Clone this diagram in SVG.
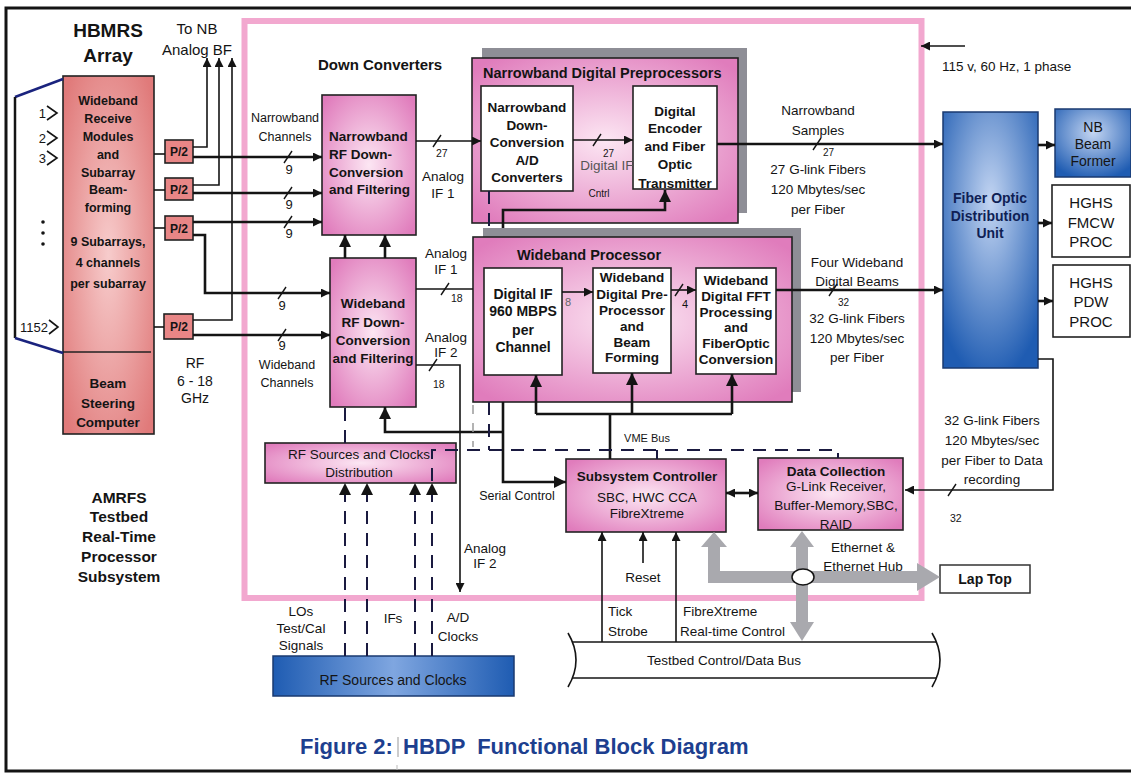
<svg xmlns="http://www.w3.org/2000/svg" width="1131" height="774" viewBox="0 0 1131 774">
<defs>
<style>
.t{font-family:"Liberation Sans",Arial,Helvetica,sans-serif;fill:#141414}
.b{font-weight:bold}
.m{text-anchor:middle}
.ln{stroke:#141414;fill:none;stroke-width:1.6}
.tk{stroke:#141414;fill:none;stroke-width:2.6}
.ds{stroke:#1a1a40;fill:none;stroke-width:2;stroke-dasharray:13 9}
.box{stroke:#222;stroke-width:1.6}
.wbox{fill:#fff;stroke:#222;stroke-width:1.6}
.sl{stroke:#141414;stroke-width:1.4}
.gray{fill:#a9a9ae}
</style>
<radialGradient id="gP" cx="50%" cy="50%" r="65%"><stop offset="0" stop-color="#fce6f3"/><stop offset="1" stop-color="#e07cbc"/></radialGradient>
<radialGradient id="gS" cx="50%" cy="50%" r="65%"><stop offset="0" stop-color="#f7cccc"/><stop offset="1" stop-color="#e07a7a"/></radialGradient>
<radialGradient id="gB" cx="50%" cy="35%" r="70%"><stop offset="0" stop-color="#c3d5f2"/><stop offset="1" stop-color="#1f5cb2"/></radialGradient>
<linearGradient id="gB2" x1="0" y1="0" x2="1" y2="0"><stop offset="0" stop-color="#1f5cb2"/><stop offset="0.5" stop-color="#7fa6e0"/><stop offset="1" stop-color="#1f5cb2"/></linearGradient>
<marker id="a" viewBox="0 0 10 10" refX="10" refY="5" markerWidth="10" markerHeight="9" markerUnits="userSpaceOnUse" orient="auto-start-reverse"><path d="M0,0 L10,5 L0,10 z" fill="#141414"/></marker>
<marker id="A" viewBox="0 0 10 10" refX="10" refY="5" markerWidth="12" markerHeight="15" markerUnits="userSpaceOnUse" orient="auto"><path d="M0,0 L10,5 L0,10 z" fill="#141414"/></marker>
</defs>
<rect x="0" y="0" width="1131" height="774" fill="#fff"/>
<rect x="6" y="8" width="1140" height="763" fill="none" stroke="#141414" stroke-width="3"/>
<rect x="244.5" y="21" width="677" height="577" fill="none" stroke="#f2a8cf" stroke-width="6"/>

<!-- titles -->
<text class="t b m" x="108" y="37" font-size="19">HBMRS</text>
<text class="t b m" x="108" y="62" font-size="19">Array</text>
<text class="t m" x="197" y="34" font-size="15">To NB</text>
<text class="t m" x="197" y="55" font-size="15">Analog BF</text>
<text class="t b" x="318" y="70" font-size="15">Down Converters</text>
<g class="t b m" font-size="15.5">
<text x="119" y="503">AMRFS</text><text x="119" y="522">Testbed</text><text x="119" y="542">Real-Time</text><text x="119" y="562">Processor</text><text x="119" y="582">Subsystem</text>
</g>

<!-- Wideband receive modules -->
<g id="wrm">
<rect class="box" x="63" y="76" width="91" height="358" fill="url(#gS)"/>
<line x1="63" y1="352" x2="151" y2="352" stroke="#222" stroke-width="1.4"/>
<g class="t b m" font-size="12.5">
<text x="108" y="105">Wideband</text><text x="108" y="123">Receive</text><text x="108" y="141">Modules</text><text x="108" y="159">and</text><text x="108" y="177">Subarray</text><text x="108" y="194">Beam-</text><text x="108" y="212">forming</text>
<text x="108" y="246">9 Subarrays,</text><text x="108" y="267">4 channels</text><text x="108" y="288">per subarray</text>
</g>
<g class="t b m" font-size="13.5">
<text x="108" y="388">Beam</text><text x="108" y="408">Steering</text><text x="108" y="427">Computer</text>
</g>
</g>
<g id="array">
<polyline points="63,79 15,97" fill="none" stroke="#1a237e" stroke-width="2.5"/>
<polyline points="15,97 15,338" fill="none" stroke="#141414" stroke-width="2.5"/>
<polyline points="15,338 63,353" fill="none" stroke="#1a237e" stroke-width="2.5"/>
<g class="ln" stroke-width="1.5">
<polyline points="47,106 57,113 47,120"/><polyline points="47,131 57,138 47,145"/><polyline points="47,151 57,158 47,165"/><polyline points="49,320 58,327 49,334"/>
</g>
<g class="t" font-size="13" text-anchor="end">
<text x="46" y="118">1</text><text x="46" y="143">2</text><text x="46" y="163">3</text><text x="48" y="332">1152</text>
</g>
<circle cx="43" cy="222" r="1.8" fill="#141414"/><circle cx="43" cy="233" r="1.8" fill="#141414"/><circle cx="43" cy="244" r="1.8" fill="#141414"/>
</g>

<!-- P/2 boxes -->
<g id="p2">
<rect class="box" x="165" y="140" width="28" height="23" fill="#e88686"/>
<rect class="box" x="165" y="178" width="28" height="22" fill="#e88686"/>
<rect class="box" x="165" y="216" width="28" height="24" fill="#e88686"/>
<rect class="box" x="164" y="314" width="29" height="25" fill="#e88686"/>
<g class="t b m" font-size="12"><text x="179" y="156">P/2</text><text x="179" y="194">P/2</text><text x="179" y="233">P/2</text><text x="179" y="331">P/2</text></g>
</g>

<!-- Narrowband RF down conversion -->
<g id="nbrf">
<rect class="box" x="322" y="95" width="94" height="140" fill="url(#gP)"/>
<g class="t b" font-size="13.5"><text x="329" y="141">Narrowband</text><text x="329" y="159">RF Down-</text><text x="329" y="177">Conversion</text><text x="329" y="194">and Filtering</text></g>
</g>
<g id="wbrf">
<rect class="box" x="330" y="258" width="86" height="149" fill="url(#gP)"/>
<g class="t b m" font-size="13.5"><text x="373" y="308">Wideband</text><text x="373" y="327">RF Down-</text><text x="373" y="345">Conversion</text><text x="373" y="363">and Filtering</text></g>
</g>

<!-- NB digital preprocessors -->
<g id="nbdp">
<rect x="482" y="48" width="265" height="165" fill="#8e8e96"/>
<rect class="box" x="472" y="58" width="266" height="165" fill="url(#gP)" stroke-width="2"/>
<text class="t b" x="483" y="78" font-size="14.5">Narrowband Digital Preprocessors</text>
<rect class="wbox" x="481" y="86" width="92" height="105"/>
<g class="t b m" font-size="13.5"><text x="527" y="112">Narrowband</text><text x="527" y="130">Down-</text><text x="527" y="147">Conversion</text><text x="527" y="165">A/D</text><text x="527" y="182">Converters</text></g>
<rect class="wbox" x="633" y="86" width="84" height="103"/>
<g class="t b m" font-size="13.5"><text x="675" y="116">Digital</text><text x="675" y="133">Encoder</text><text x="675" y="151">and Fiber</text><text x="675" y="169">Optic</text><text x="675" y="188">Transmitter</text></g>
<text class="t" x="603" y="157" font-size="10">27</text>
<text class="t m" x="607" y="170" font-size="13.5" fill="#555" style="fill:#555">Digital IF</text>
<text class="t m" x="599" y="197" font-size="10">Cntrl</text>
</g>

<!-- Wideband processor -->
<g id="wbp">
<rect x="483" y="228" width="318" height="164" fill="#8e8e96"/>
<rect class="box" x="473" y="237" width="319" height="165" fill="url(#gP)" stroke-width="2"/>
<text class="t b" x="517" y="260" font-size="14.5">Wideband Processor</text>
<rect class="wbox" x="484" y="268" width="78" height="107"/>
<g class="t b m" font-size="14"><text x="523" y="299">Digital IF</text><text x="523" y="316">960 MBPS</text><text x="523" y="335">per</text><text x="523" y="352">Channel</text></g>
<rect class="wbox" x="593" y="268" width="78" height="105"/>
<g class="t b m" font-size="13.5"><text x="632" y="282">Wideband</text><text x="632" y="299">Digital Pre-</text><text x="632" y="315">Processor</text><text x="632" y="331">and</text><text x="632" y="347">Beam</text><text x="632" y="362">Forming</text></g>
<rect class="wbox" x="696" y="268" width="80" height="106"/>
<g class="t b m" font-size="13.5"><text x="736" y="285">Wideband</text><text x="736" y="301">Digital FFT</text><text x="736" y="317">Processing</text><text x="736" y="332">and</text><text x="736" y="348">FiberOptic</text><text x="736" y="364">Conversion</text></g>
<text class="t" x="565" y="306" font-size="11" style="fill:#666">8</text>
<text class="t" x="682" y="308" font-size="11">4</text>
</g>

<!-- Fiber optic distribution and right boxes -->
<g id="fodu">
<rect x="943" y="112" width="95" height="256" fill="url(#gB)" stroke="#1a3a70" stroke-width="1.5"/>
<g class="t b m" font-size="14" style="fill:#0f1f55"><text x="990" y="203">Fiber Optic</text><text x="990" y="221">Distribution</text><text x="990" y="238">Unit</text></g>
</g>
<g id="nbbf">
<rect x="1055" y="109" width="76" height="68" fill="url(#gB)" stroke="#1a3a70" stroke-width="1.5"/>
<g class="t m" font-size="14"><text x="1093" y="132">NB</text><text x="1093" y="149">Beam</text><text x="1093" y="166">Former</text></g>
</g>
<g id="fmcw">
<rect class="wbox" x="1052" y="185" width="78" height="72"/>
<g class="t m" font-size="15"><text x="1091" y="208">HGHS</text><text x="1091" y="228">FMCW</text><text x="1091" y="247">PROC</text></g>
</g>
<g id="pdw">
<rect class="wbox" x="1053" y="265" width="77" height="72"/>
<g class="t m" font-size="15"><text x="1091" y="288">HGHS</text><text x="1091" y="307">PDW</text><text x="1091" y="327">PROC</text></g>
</g>

<!-- RF sources -->
<g id="rfdist">
<rect class="box" x="265" y="443" width="191" height="40" fill="url(#gP)"/>
<g class="t m" font-size="13.5"><text x="359" y="459">RF Sources and Clocks</text><text x="359" y="477">Distribution</text></g>
</g>
<g id="rfsrc">
<rect x="273" y="656" width="241" height="40" fill="url(#gB2)" stroke="#1a3a70" stroke-width="1.5"/>
<text class="t m" x="393" y="685" font-size="14">RF Sources and Clocks</text>
</g>

<!-- controller / data collection -->
<g id="ssc">
<rect class="box" x="566" y="459" width="160" height="73" fill="url(#gP)"/>
<text class="t b m" x="647" y="481" font-size="13.5">Subsystem Controller</text>
<text class="t m" x="647" y="502" font-size="13.5">SBC, HWC CCA</text>
<text class="t m" x="647" y="518" font-size="13.5">FibreXtreme</text>
</g>
<g id="dc">
<rect class="box" x="758" y="458" width="145" height="72" fill="url(#gP)"/>
<text class="t b m" x="836" y="476" font-size="13.5">Data Collection</text>
<text class="t m" x="836" y="491" font-size="13.5">G-Link Receiver,</text>
<text class="t m" x="836" y="510" font-size="13.5">Buffer-Memory,SBC,</text>
<text class="t m" x="836" y="529" font-size="13.5">RAID</text>
</g>
<g id="laptop">
<rect x="940" y="565" width="90" height="28" fill="#fff" stroke="#333" stroke-width="1.5"/>
<text class="t b m" x="985" y="584" font-size="14">Lap Top</text>
</g>
<g id="bus">
<path d="M568,633 Q584,660 568,687" class="ln"/>
<path d="M932,633 Q948,660 932,687" class="ln"/>
<line x1="572" y1="642" x2="936" y2="642" class="ln"/>
<line x1="572" y1="678" x2="936" y2="678" class="ln"/>
<text class="t m" x="724" y="665" font-size="13.5">Testbed Control/Data Bus</text>
</g>

<!-- connectors -->
<g id="connectors">
<!-- inputs into P/2 -->
<g class="ln"><line x1="154" y1="154" x2="165" y2="154"/><line x1="154" y1="190" x2="165" y2="190"/><line x1="154" y1="228" x2="165" y2="228"/><line x1="154" y1="327" x2="164" y2="327"/></g>
<!-- to NB analog BF -->
<g class="ln" marker-end="url(#a)"><polyline points="193,147 207,147 207,58"/><polyline points="193,185 219,185 219,58"/><polyline points="193,320 232,320 232,58"/></g>
<!-- narrowband channels -->
<g class="tk" marker-end="url(#a)"><line x1="193" y1="157" x2="322" y2="157"/><line x1="193" y1="193" x2="322" y2="193"/><line x1="193" y1="222" x2="322" y2="222"/><polyline points="193,235 205,235 205,293 330,293"/><line x1="193" y1="335" x2="330" y2="335"/></g>
<g class="sl"><line x1="284" y1="163" x2="292" y2="151"/><line x1="284" y1="199" x2="292" y2="187"/><line x1="284" y1="228" x2="292" y2="216"/><line x1="278" y1="299" x2="286" y2="287"/><line x1="278" y1="341" x2="286" y2="329"/></g>
<g class="t m" font-size="13"><text x="289" y="174">9</text><text x="289" y="209">9</text><text x="289" y="238">9</text><text x="282" y="310">9</text><text x="282" y="350">9</text></g>
<!-- WB to NB up arrows -->
<g class="tk" stroke-width="3" marker-end="url(#A)"><line x1="345" y1="258" x2="345" y2="235"/><line x1="385" y1="258" x2="385" y2="235"/></g>
<!-- NB RF to A/D -->
<line class="ln" x1="416" y1="141" x2="481" y2="141" marker-end="url(#a)"/>
<line class="sl" x1="433" y1="147" x2="441" y2="135"/>
<text class="t" x="436" y="157" font-size="10.5">27</text>
<!-- A/D to encoder -->
<line class="ln" x1="573" y1="140" x2="633" y2="140" marker-end="url(#a)"/>
<line class="sl" x1="593" y1="146" x2="601" y2="134"/>
<!-- control into encoder -->
<polyline class="tk" points="503,228 503,210 665,210 665,190" marker-end="url(#A)"/>
<line class="ds" x1="489" y1="191" x2="489" y2="228" stroke="#141414"/>
<!-- Analog IF1 / IF2 from WB -->
<line class="ln" x1="416" y1="289" x2="473" y2="289"/>
<line class="sl" x1="441" y1="295" x2="449" y2="283"/>
<text class="t" x="451" y="302" font-size="10.5">18</text>
<polyline class="ln" points="416,365 460,365 460,592" marker-end="url(#a)"/>
<line class="sl" x1="429" y1="371" x2="437" y2="359"/>
<text class="t" x="433" y="388" font-size="10.5">18</text>
<!-- inside WB processor -->
<line class="ln" x1="562" y1="292" x2="593" y2="292" marker-end="url(#a)"/>
<line class="ln" x1="671" y1="290" x2="696" y2="290" marker-end="url(#a)"/>
<line class="sl" x1="675" y1="296" x2="683" y2="284"/>
<!-- outputs to FODU -->
<line class="tk" x1="717" y1="144" x2="943" y2="144" marker-end="url(#a)"/>
<line class="sl" x1="813" y1="150" x2="821" y2="138"/>
<text class="t" x="823" y="156" font-size="10">27</text>
<line class="tk" x1="776" y1="290" x2="943" y2="290" marker-end="url(#a)"/>
<line class="sl" x1="829" y1="296" x2="837" y2="284"/>
<text class="t" x="838" y="306" font-size="10">32</text>
<!-- FODU to right boxes -->
<g class="tk" marker-end="url(#a)"><line x1="1038" y1="145" x2="1055" y2="145"/><line x1="1038" y1="223" x2="1052" y2="223"/><line x1="1038" y1="301" x2="1053" y2="301"/></g>
<!-- FODU to data collection -->
<polyline class="ln" points="1038,359 1053,359 1053,490 905,490" marker-end="url(#a)"/>
<line class="sl" x1="948" y1="496" x2="956" y2="484"/>
<text class="t" x="950" y="522" font-size="10.5">32</text>
<!-- power -->
<line class="ln" x1="965" y1="46" x2="921" y2="46" marker-end="url(#a)"/>
<!-- VME bus -->
<polyline class="tk" points="536,414 732,414"/>
<g class="tk" marker-end="url(#A)"><line x1="536" y1="414" x2="536" y2="375"/><line x1="632" y1="414" x2="632" y2="373"/><line x1="732" y1="414" x2="732" y2="374"/></g>
<line class="tk" x1="610" y1="414" x2="610" y2="459"/>
<!-- serial control -->
<polyline class="tk" points="503,402 503,482 566,482" marker-end="url(#A)"/>
<polyline class="tk" points="503,432 385,432 385,407" marker-end="url(#A)"/>
<!-- dashed clocks -->
<line class="ds" x1="489" y1="402" x2="489" y2="450"/>
<polyline class="ds" points="432,481 432,450 838,450 838,458"/>
<line class="ds" x1="657" y1="450" x2="657" y2="459" stroke-dasharray="none"/>
<line x1="473" y1="405" x2="473" y2="447" stroke="#9a9a9a" stroke-width="1.5" stroke-dasharray="9 9"/>
<line class="ds" x1="345" y1="443" x2="345" y2="407" stroke="#141414"/>
<g class="ds" stroke="#141414" stroke-width="1.8" marker-end="url(#A)"><line x1="345" y1="656" x2="345" y2="483"/><line x1="367" y1="656" x2="367" y2="483"/><line x1="415" y1="656" x2="415" y2="483"/><line x1="432" y1="656" x2="432" y2="483"/></g>
<!-- SSC <-> DC -->
<line class="tk" x1="726" y1="493" x2="758" y2="493" marker-start="url(#a)" marker-end="url(#a)"/>
<!-- bus to controller -->
<g class="ln" marker-end="url(#a)"><line x1="602" y1="642" x2="602" y2="532"/><line x1="643" y1="563" x2="643" y2="532"/><line x1="676" y1="642" x2="676" y2="532"/></g>
<!-- ethernet -->
<rect class="gray" x="708" y="546" width="12" height="37"/>
<polygon class="gray" points="701,547 714,532 727,547"/>
<rect class="gray" x="708" y="571" width="210" height="12"/>
<polygon class="gray" points="917,563 940,577 917,591"/>
<rect class="gray" x="796" y="546" width="12" height="78"/>
<polygon class="gray" points="790,547 802,531 814,547"/>
<polygon class="gray" points="790,622 802,641 814,622"/>
<ellipse cx="803" cy="577" rx="11" ry="8" fill="#fff" stroke="#141414" stroke-width="1.5"/>
</g>

<!-- labels -->
<g class="t m" font-size="12.5">
<text x="285" y="122">Narrowband</text><text x="285" y="141">Channels</text>
<text x="287" y="369">Wideband</text><text x="287" y="387">Channels</text>
<text x="517" y="500">Serial Control</text>
</g>
<g class="t m" font-size="14"><text x="195" y="368">RF</text><text x="195" y="386">6 - 18</text><text x="195" y="403">GHz</text></g>
<g class="t m" font-size="13.5">
<text x="443" y="181">Analog</text><text x="443" y="198">IF 1</text>
<text x="446" y="258">Analog</text><text x="446" y="274">IF 1</text>
<text x="446" y="342">Analog</text><text x="446" y="357">IF 2</text>
<text x="485" y="553">Analog</text><text x="485" y="568">IF 2</text>
<text x="818" y="115">Narrowband</text><text x="818" y="135">Samples</text>
<text x="818" y="174">27 G-link Fibers</text><text x="818" y="194">120 Mbytes/sec</text><text x="818" y="214">per Fiber</text>
<text x="857" y="267">Four Wideband</text><text x="857" y="286">Digital Beams</text>
<text x="857" y="323">32 G-link Fibers</text><text x="857" y="343">120 Mbytes/sec</text><text x="857" y="362">per Fiber</text>
<text x="992" y="425">32 G-link Fibers</text><text x="992" y="445">120 Mbytes/sec</text><text x="992" y="465">per Fiber to Data</text><text x="992" y="484">recording</text>
<text x="863" y="552">Ethernet &amp;</text><text x="863" y="571">Ethernet Hub</text>
<text x="643" y="582">Reset</text>
<text x="301" y="616">LOs</text><text x="301" y="633">Test/Cal</text><text x="301" y="650">Signals</text>
<text x="393" y="623">IFs</text>
<text x="458" y="622">A/D</text><text x="458" y="641">Clocks</text>
</g>
<text class="t m" x="647" y="442" font-size="11">VME Bus</text>
<g class="t" font-size="13.5">
<text x="608" y="616">Tick</text><text x="608" y="636">Strobe</text>
<text x="683" y="616">FibreXtreme</text><text x="680" y="636">Real-time Control</text>
<text x="942" y="71">115 v, 60 Hz, 1 phase</text>
</g>

<!-- caption -->
<text class="t b" x="300" y="754" font-size="22" style="fill:#1d3f8f">Figure 2:</text>
<line x1="398" y1="737" x2="398" y2="757" stroke="#999" stroke-width="1"/>
<line x1="397" y1="765" x2="397" y2="770" stroke="#bbb" stroke-width="1"/>
<text class="t b" x="403" y="754" font-size="22" style="fill:#1d3f8f;white-space:pre">HBDP  Functional Block Diagram</text>
</svg>
